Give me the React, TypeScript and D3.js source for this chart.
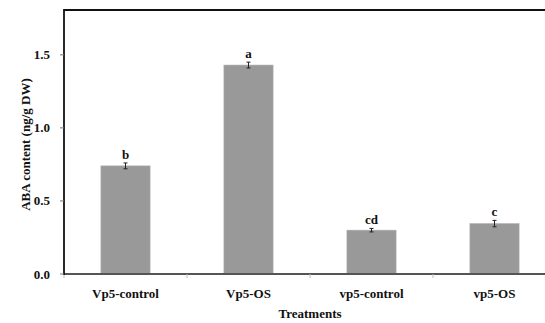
import React from 'react';
import * as d3 from 'd3';

const categories = ['Vp5-control', 'Vp5-OS', 'vp5-control', 'vp5-OS'];
const values = [0.74, 1.43, 0.30, 0.345];
const errors = [0.02, 0.02, 0.012, 0.022];
const letters = ['b', 'a', 'cd', 'c'];
const yTicks = [0, 0.5, 1.0, 1.5];

const W = 545;
const H = 323;
const FONT = '"Liberation Serif", "Times New Roman", serif';

const App = () => {
  const left = 64;
  const right = 556;
  const top = 11;
  const bottom = 274;

  const x = d3.scaleBand().domain(categories).range([left, right]).paddingInner(0.6).paddingOuter(0.3);
  const y = d3.scaleLinear().domain([0, 1.8]).range([bottom, top]);
  const edges = d3.range(categories.length + 1).map((i) => left + (i * (right - left)) / categories.length);

  return (
    <svg width={W} height={H} style={{ position: 'absolute', left: 0, top: 0 }} fontFamily={FONT}>
      <rect x={0} y={0} width={W} height={H} fill="#fff" />
      {/* bars */}
      {categories.map((c, i) => {
        const cx = x(c)! + x.bandwidth() / 2;
        return (
          <g key={c}>
            <rect
              x={x(c)}
              y={y(values[i])}
              width={x.bandwidth()}
              height={bottom - y(values[i])}
              fill="#999999"
              stroke="#b0b0b0"
              strokeWidth={0.6}
            />
            {/* error bar */}
            <g stroke="#222" strokeWidth={1}>
              <line x1={cx} x2={cx} y1={y(values[i] + errors[i])} y2={y(values[i] - errors[i])} />
              <line x1={cx - 2} x2={cx + 2} y1={y(values[i] + errors[i])} y2={y(values[i] + errors[i])} />
              <line x1={cx - 2} x2={cx + 2} y1={y(values[i] - errors[i])} y2={y(values[i] - errors[i])} />
            </g>
            <text x={cx} y={y(values[i] + errors[i]) - 4} textAnchor="middle" fontSize={13} fontWeight="bold" fill="#111">
              {letters[i]}
            </text>
            <text x={cx} y={298} textAnchor="middle" fontSize={13} fontWeight="bold" fill="#111">
              {c}
            </text>
          </g>
        );
      })}
      {/* x axis */}
      <line x1={left} x2={right} y1={bottom} y2={bottom} stroke="#555" strokeWidth={1.8} />
      {edges.map((e, i) => (
        <line key={i} x1={e} x2={e} y1={bottom} y2={bottom + 4} stroke="#bbb" strokeWidth={1} />
      ))}
      {/* frame */}
      <line x1={left} x2={right} y1={top - 1} y2={top - 1} stroke="#111" strokeWidth={1.8} />
      <line x1={left} x2={left} y1={top - 2} y2={bottom + 1} stroke="#111" strokeWidth={1.8} />
      {/* y ticks */}
      {yTicks.map((t) => (
        <g key={t}>
          <line x1={left - 4} x2={left} y1={y(t)} y2={y(t)} stroke="#777" strokeWidth={1} />
          <text x={left - 14} y={y(t)} dy="0.35em" textAnchor="end" fontSize={13} fontWeight="bold" fill="#111">
            {d3.format('.1f')(t)}
          </text>
        </g>
      ))}
      <text
        transform={`translate(30,${(top + bottom) / 2 + 2}) rotate(-90)`}
        textAnchor="middle"
        fontSize={13}
        fontWeight="bold"
        fill="#111"
      >
        ABA content (ng/g DW)
      </text>
      <text x={(left + right) / 2} y={318} textAnchor="middle" fontSize={13} fontWeight="bold" fill="#111">
        Treatments
      </text>
    </svg>
  );
};

export default App;
